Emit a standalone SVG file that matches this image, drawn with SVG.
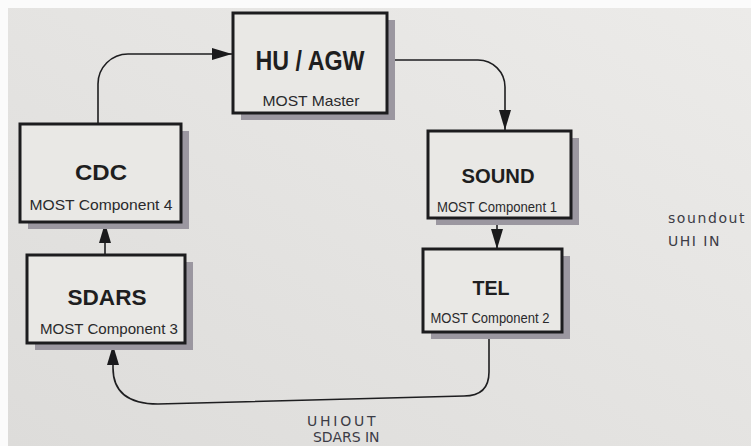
<svg xmlns="http://www.w3.org/2000/svg" width="751" height="446" viewBox="0 0 751 446">
<style>
.box{fill:#e9e8e5;stroke:#1c1c1e;stroke-width:3}
.shadow{fill:#9b97a0}
.title{font-family:"Liberation Sans",Arial,sans-serif;font-weight:bold;fill:#1e1e20;text-anchor:middle}
.sub{font-family:"Liberation Sans",Arial,sans-serif;fill:#2a2a2c;text-anchor:middle;font-size:15px}
.conn{fill:none;stroke:#1e1e20;stroke-width:1.6}
.hand{font-family:"DejaVu Sans",sans-serif;font-weight:normal;fill:#3c3c46;font-size:14px;letter-spacing:1.5px}
</style>
<defs>
<marker id="arr" markerUnits="userSpaceOnUse" markerWidth="20" markerHeight="12" refX="20" refY="6" orient="auto">
<path d="M0,0 L20,6 L0,12 z" fill="#1a1a1c"/>
</marker>
<linearGradient id="paper" x1="1" y1="0" x2="0" y2="1">
<stop offset="0" stop-color="#ecebe9"/>
<stop offset="1" stop-color="#dddcda"/>
</linearGradient>
</defs>
<rect x="0" y="0" width="751" height="446" fill="#fbfbfb"/>
<rect x="8" y="8" width="743" height="438" fill="url(#paper)"/>

<g id="connectors">
<path class="conn" d="M98,124 V84 A30,30 0 0 1 128,54 H232" marker-end="url(#arr)"/>
<path class="conn" d="M387,60 H478 A27,27 0 0 1 505,87 V130" marker-end="url(#arr)"/>
<path class="conn" d="M497,218 V249" marker-end="url(#arr)"/>
<path class="conn" d="M105,254 V223" marker-end="url(#arr)"/>
<path class="conn" d="M489,333 V372 Q489,396 464,396 L158,404 Q113,404 113,368 V345" marker-end="url(#arr)"/>
</g>

<g id="hu">
<rect class="shadow" x="241" y="20" width="154" height="100"/>
<rect class="box" x="233" y="13" width="154" height="100"/>
<text class="title" x="310" y="70" font-size="27" textLength="109" lengthAdjust="spacingAndGlyphs">HU / AGW</text>
<text class="sub" x="311" y="106" font-size="16" textLength="97" lengthAdjust="spacingAndGlyphs">MOST Master</text>
</g>

<g id="cdc">
<rect class="shadow" x="28" y="131" width="161" height="98"/>
<rect class="box" x="20" y="124" width="161" height="98"/>
<text class="title" x="101" y="180" font-size="22" textLength="52" lengthAdjust="spacingAndGlyphs">CDC</text>
<text class="sub" x="101" y="210" textLength="143" lengthAdjust="spacingAndGlyphs">MOST Component 4</text>
</g>

<g id="sdars">
<rect class="shadow" x="35" y="262" width="158" height="88"/>
<rect class="box" x="27" y="255" width="158" height="88"/>
<text class="title" x="107" y="305" font-size="22" textLength="79" lengthAdjust="spacingAndGlyphs">SDARS</text>
<text class="sub" x="109" y="334" textLength="138" lengthAdjust="spacingAndGlyphs">MOST Component 3</text>
</g>

<g id="sound">
<rect class="shadow" x="436" y="138" width="143" height="87"/>
<rect class="box" x="428" y="131" width="143" height="87"/>
<text class="title" x="498" y="183" font-size="21" textLength="73" lengthAdjust="spacingAndGlyphs">SOUND</text>
<text class="sub" x="497" y="212" font-size="14" textLength="120" lengthAdjust="spacingAndGlyphs">MOST Component 1</text>
</g>

<g id="tel">
<rect class="shadow" x="431" y="256" width="139" height="83"/>
<rect class="box" x="423" y="249" width="139" height="83"/>
<text class="title" x="491" y="295" font-size="21" textLength="37" lengthAdjust="spacingAndGlyphs">TEL</text>
<text class="sub" x="490" y="323" font-size="14" textLength="119" lengthAdjust="spacingAndGlyphs">MOST Component 2</text>
</g>

<g id="notes">
<text class="hand" x="668" y="223" textLength="78">soundout</text>
<text class="hand" x="668" y="246">UHI IN</text>
<text class="hand" x="307" y="426" textLength="70">UHIOUT</text>
<text class="hand" x="313" y="442" font-size="12" textLength="68">SDARS IN</text>
</g>
</svg>
